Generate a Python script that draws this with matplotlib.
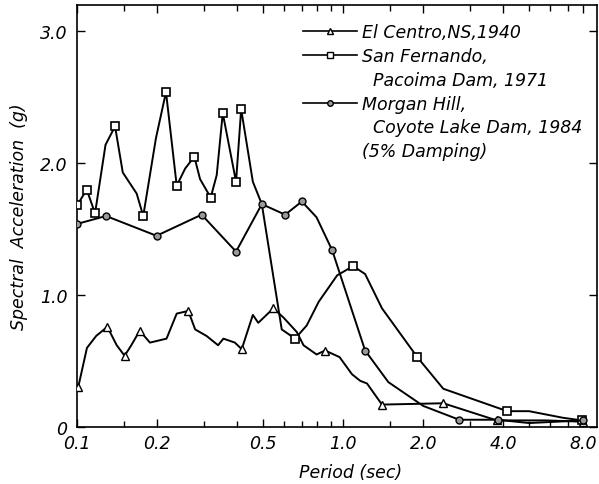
import matplotlib
matplotlib.use("Agg")
import matplotlib.pyplot as plt
from matplotlib.lines import Line2D
from matplotlib.ticker import FixedLocator, NullFormatter

# El Centro, NS, 1940 (triangles at selected points)
el_centro_T = [0.101, 0.109, 0.118, 0.130, 0.141, 0.151, 0.160, 0.172, 0.188, 0.217,
               0.237, 0.262, 0.278, 0.307, 0.339, 0.355, 0.392, 0.416, 0.458, 0.480,
               0.547, 0.597, 0.670, 0.710, 0.795, 0.856, 0.970, 1.08, 1.16, 1.23,
               1.40, 2.38, 3.78, 5.8, 7.95]
el_centro_A = [0.30, 0.60, 0.69, 0.76, 0.62, 0.54, 0.62, 0.73, 0.64, 0.67,
               0.86, 0.88, 0.74, 0.69, 0.62, 0.67, 0.64, 0.59, 0.85, 0.79,
               0.90, 0.83, 0.72, 0.62, 0.55, 0.58, 0.53, 0.40, 0.35, 0.33,
               0.17, 0.18, 0.05, 0.05, 0.04]
el_centro_mk = [0, 3, 5, 7, 11, 17, 20, 25, 30, 31, 32, 34]

# San Fernando, Pacoima Dam, 1971
san_fer_T = [0.100, 0.1088, 0.1169, 0.128, 0.139, 0.1486, 0.1676, 0.1774, 0.198, 0.216,
             0.237, 0.255, 0.276, 0.290, 0.318, 0.335, 0.353, 0.396, 0.414, 0.458,
             0.495, 0.588, 0.660, 0.730, 0.810, 0.950, 1.09, 1.21, 1.40, 1.90,
             2.38, 4.14, 5.0, 6.7, 7.9]
san_fer_A = [1.68, 1.80, 1.62, 2.14, 2.28, 1.93, 1.77, 1.60, 2.19, 2.54,
             1.83, 1.96, 2.05, 1.88, 1.74, 1.91, 2.38, 1.86, 2.41, 1.86,
             1.69, 0.74, 0.67, 0.77, 0.95, 1.15, 1.22, 1.16, 0.90, 0.53,
             0.29, 0.12, 0.12, 0.07, 0.05]
san_fer_mk = [0, 1, 2, 4, 7, 9, 10, 12, 14, 16, 17, 18, 22, 26, 29, 31, 34]

# Morgan Hill, Coyote Lake Dam, 1984
morgan_T = [0.100, 0.1286, 0.199, 0.294, 0.396, 0.495, 0.606, 0.700, 0.795, 0.910,
            1.21, 1.48, 2.00, 2.73, 3.81, 5.0, 7.95]
morgan_A = [1.54, 1.60, 1.45, 1.61, 1.33, 1.69, 1.61, 1.71, 1.59, 1.34,
            0.58, 0.34, 0.16, 0.055, 0.055, 0.03, 0.05]
morgan_mk = [0, 1, 2, 3, 4, 5, 6, 7, 9, 10, 13, 14, 16]

major_x = [0.1, 0.2, 0.5, 1.0, 2.0, 4.0, 8.0]
major_x_labels = ["0.1", "0.2", "0.5", "1.0", "2.0", "4.0", "8.0"]
minor_x = [0.15, 0.3, 0.4, 0.6, 0.7, 0.8, 0.9, 1.5, 3.0, 5.0, 6.0, 7.0]
y_ticks = [0, 1.0, 2.0, 3.0]
y_labels = ["0", "1.0", "2.0", "3.0"]

plt.rcParams['font.family'] = 'DejaVu Sans'
plt.rcParams['font.style'] = 'italic'

fig = plt.figure(figsize=(5.99, 4.85), dpi=100)
ax = fig.add_axes([77 / 599, 57 / 485, 520 / 599, 422 / 485])

lw = 1.4
ax.plot(el_centro_T, el_centro_A, color='black', lw=lw, marker='^', markevery=el_centro_mk,
        ms=6, mfc='white', mec='black', mew=1.0, zorder=3)
ax.plot(san_fer_T, san_fer_A, color='black', lw=lw, marker='s', markevery=san_fer_mk,
        ms=6, mfc='white', mec='black', mew=1.2, zorder=3)
ax.plot(morgan_T, morgan_A, color='black', lw=lw, marker='o', markevery=morgan_mk,
        ms=5, mfc='#999999', mec='black', mew=1.0, zorder=3)

ax.set_xscale('log')
ax.set_xlim(0.1, 9.0)
ax.set_ylim(0, 3.2)

ax.xaxis.set_major_locator(FixedLocator(major_x))
ax.xaxis.set_minor_locator(FixedLocator(minor_x))
ax.xaxis.set_minor_formatter(NullFormatter())
ax.set_xticklabels(major_x_labels)
ax.set_yticks(y_ticks)
ax.set_yticklabels(y_labels)

ax.tick_params(axis='both', which='major', direction='in', length=6, width=1.0,
               labelsize=12.5, top=True, right=True, pad=5)
ax.tick_params(axis='x', which='minor', direction='in', length=4, width=1.0, top=True)
ax.tick_params(axis='y', which='major', pad=7)
for sp in ax.spines.values():
    sp.set_linewidth(1.2)

ax.set_ylabel('Spectral  Acceleration  (g)', fontsize=12.5)
ax.yaxis.set_label_coords(-0.094, 0.5)
ax.set_xlabel('Period (sec)', fontsize=12.5)
ax.xaxis.set_label_coords(0.527, -0.085)

blank = Line2D([], [], linestyle='none')
h1 = Line2D([], [], color='black', lw=1.2, marker='^', ms=5, mfc='white', mec='black')
h2 = Line2D([], [], color='black', lw=1.2, marker='s', ms=5, mfc='white', mec='black')
h3 = Line2D([], [], color='black', lw=1.2, marker='o', ms=4, mfc='#999999', mec='black')
handles = [h1, h2, blank, h3, blank, blank]
labels = ["El Centro,NS,1940", "San Fernando,", "  Pacoima Dam, 1971",
          "Morgan Hill,", "  Coyote Lake Dam, 1984", "(5% Damping)"]
leg = ax.legend(handles, labels, loc='upper left', bbox_to_anchor=(0.411, 0.985),
                frameon=False, fontsize=12.5, handlelength=3.1, handletextpad=0.3,
                labelspacing=0.33, borderaxespad=0.3, markerscale=1.0)

fig.savefig('out.png', dpi=100, facecolor='white')
